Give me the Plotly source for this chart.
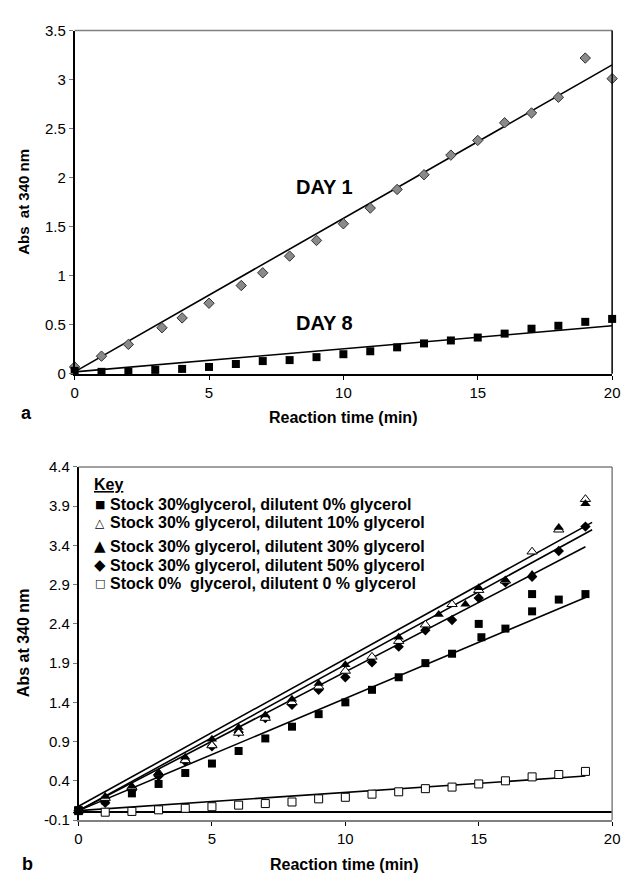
import plotly.graph_objects as go

# ---------------- Panel a data ----------------
day1_x = [0, 1, 2, 3.25, 4, 5, 6.2, 7, 8, 9, 10, 11, 12, 13, 14, 15, 16, 17, 18, 19, 20]
day1_y = [0.07, 0.18, 0.30, 0.47, 0.57, 0.72, 0.90, 1.03, 1.20, 1.36, 1.53, 1.69, 1.88,
          2.03, 2.23, 2.38, 2.56, 2.66, 2.82, 3.22, 3.01]
day8_x = list(range(0, 21))
day8_y = [0.03, 0.02, 0.02, 0.04, 0.05, 0.07, 0.10, 0.13, 0.14, 0.17, 0.20, 0.23, 0.27,
          0.31, 0.34, 0.37, 0.41, 0.46, 0.49, 0.53, 0.56]
# linear trend lines: (intercept, slope, x_end)
day1_fit = (0.02, 0.1565, 20)
day8_fit = (0.02, 0.0235, 20)

# ---------------- Panel b data ----------------
sq_x = [0, 1, 2, 3, 4, 5, 6, 7, 8, 9, 10, 11, 12, 13, 14, 15, 15.1, 16, 17, 17, 18, 19]
sq_y = [0.02, 0.15, 0.24, 0.36, 0.50, 0.62, 0.78, 0.94, 1.09, 1.25, 1.40, 1.56, 1.72,
        1.90, 2.02, 2.40, 2.23, 2.34, 2.78, 2.56, 2.71, 2.78]
otri_x = list(range(0, 20))
otri_y = [0.02, 0.18, 0.32, 0.50, 0.66, 0.85, 1.01, 1.20, 1.40, 1.60, 1.80, 1.98, 2.18,
          2.39, 2.65, 2.83, 2.95, 3.32, 3.60, 3.99]
ftri_x = [0, 1, 2, 3, 4, 5, 6, 7, 8, 9, 10, 12, 13.5, 14.5, 15, 16, 17, 18, 19]
ftri_y = [0.02, 0.20, 0.33, 0.50, 0.70, 0.93, 1.08, 1.24, 1.44, 1.64, 1.88, 2.23, 2.52,
          2.65, 2.86, 2.96, 3.03, 3.63, 3.93]
dia_x = list(range(0, 20))
dia_y = [0.02, 0.12, 0.28, 0.46, 0.65, 0.84, 1.02, 1.20, 1.37, 1.56, 1.72, 1.91, 2.11,
         2.32, 2.45, 2.73, 2.93, 3.00, 3.33, 3.64]
osq_x = list(range(0, 20))
osq_y = [0.02, 0.00, 0.01, 0.03, 0.05, 0.07, 0.09, 0.11, 0.13, 0.17, 0.19, 0.23, 0.26,
         0.30, 0.32, 0.36, 0.40, 0.45, 0.48, 0.52]
fit_otri = (0.075, 0.188, 19.25)
fit_ftri = (0.02, 0.186, 19.25)
fit_dia = (0.02, 0.177, 19.0)
fit_sq = (0.02, 0.143, 19.0)
fit_osq = (0.02, 0.0232, 19.0)

legend_symbols = ["■", "△", "▲", "◆", "□"]
legend_labels = [
    "Stock 30%glycerol, dilutent 0% glycerol",
    "Stock 30% glycerol, dilutent 10% glycerol",
    "Stock 30% glycerol, dilutent 30% glycerol",
    "Stock 30% glycerol, dilutent 50% glycerol",
    "Stock 0%  glycerol, dilutent 0 % glycerol",
]

a_yticks = [0, 0.5, 1, 1.5, 2, 2.5, 3, 3.5]
a_yticktext = ["0", "0.5", "1", "1.5", "2", "2.5", "3", "3.5"]
b_yticks = [-0.1, 0.4, 0.9, 1.4, 1.9, 2.4, 2.9, 3.4, 3.9, 4.4]
b_yticktext = ["-0.1", "0.4", "0.9", "1.4", "1.9", "2.4", "2.9", "3.4", "3.9", "4.4"]
xticks = [0, 5, 10, 15, 20]

FONT = "Liberation Sans, Arial, Helvetica, sans-serif"
W, H = 627, 881


def px_x(p):
    return p / W


def px_y(p):
    return 1 - p / H


def fit_line(fit):
    b0, m, xe = fit
    return [0, xe], [b0, b0 + m * xe]


fig = go.Figure()

# ---- panel a traces ----
for fit in [day1_fit, day8_fit]:
    fx, fy = fit_line(fit)
    fig.add_trace(go.Scatter(x=fx, y=fy, mode="lines", line=dict(color="black", width=1.6),
                             xaxis="x", yaxis="y", showlegend=False, hoverinfo="skip"))
fig.add_trace(go.Scatter(x=day1_x, y=day1_y, mode="markers", xaxis="x", yaxis="y",
                         cliponaxis=False,
                         marker=dict(symbol="diamond", size=8, color="#8a8a8a",
                                     line=dict(color="#333333", width=1)),
                         showlegend=False))
fig.add_trace(go.Scatter(x=day8_x, y=day8_y, mode="markers", xaxis="x", yaxis="y",
                         cliponaxis=False,
                         marker=dict(symbol="square", size=8, color="black",
                                     line=dict(color="black", width=0)),
                         showlegend=False))

# ---- panel b traces ----
for fit in [fit_otri, fit_ftri, fit_dia, fit_sq, fit_osq]:
    fx, fy = fit_line(fit)
    fig.add_trace(go.Scatter(x=fx, y=fy, mode="lines", line=dict(color="black", width=1.6),
                             xaxis="x2", yaxis="y2", showlegend=False, hoverinfo="skip"))

marker_specs = [
    (osq_x, osq_y, "square", 8, "white", 1),
    (sq_x, sq_y, "square", 8, "black", 0),
    (dia_x, dia_y, "diamond", 8, "black", 0),
    (otri_x, otri_y, "triangle-up", 9, "white", 1),
    (ftri_x, ftri_y, "triangle-up", 9, "black", 0),
]
for xs, ys, sym, sz, col, lw in marker_specs:
    fig.add_trace(go.Scatter(x=xs, y=ys, mode="markers", xaxis="x2", yaxis="y2",
                             cliponaxis=False,
                             marker=dict(symbol=sym, size=sz, color=col,
                                         line=dict(color="black", width=lw)),
                             showlegend=False))

tickfont = dict(family=FONT, size=15, color="black")

fig.update_layout(
    width=W, height=H,
    margin=dict(l=0, r=0, t=0, b=0),
    paper_bgcolor="white", plot_bgcolor="white",
    showlegend=False,
    xaxis=dict(domain=[px_x(72), px_x(620)], range=[0, 20], anchor="y",
               tickvals=xticks, ticks="outside", ticklen=4, tickcolor="black",
               showline=True, linecolor="black", linewidth=1.6, ticklabeloverflow="allow",
               showgrid=False, zeroline=False, tickfont=tickfont),
    yaxis=dict(domain=[px_y(372), px_y(22)], range=[0, 3.5], anchor="x",
               tickvals=a_yticks, ticktext=a_yticktext, ticks="outside", ticklen=4,
               tickcolor="#777777", showline=True, linecolor="black", linewidth=1.6,
               ticklabeloverflow="allow",
               showgrid=False, zeroline=False, tickfont=tickfont),
    xaxis2=dict(domain=[px_x(76), px_x(620)], range=[0, 20], anchor="y2",
                tickvals=xticks, ticks="outside", ticklen=4, tickcolor="black",
                showline=True, linecolor="#808080", linewidth=1.5, ticklabeloverflow="allow",
                showgrid=False, zeroline=False, tickfont=tickfont),
    yaxis2=dict(domain=[px_y(827), px_y(467)], range=[-0.1, 4.4], anchor="x2",
                tickvals=b_yticks, ticktext=b_yticktext, ticks="outside", ticklen=4,
                tickcolor="#777777", showline=True, linecolor="black", linewidth=1.6,
                ticklabeloverflow="allow",
                showgrid=False, zeroline=True, zerolinecolor="black", zerolinewidth=1.6,
                tickfont=tickfont),
)

# frame lines
fig.add_shape(type="line", xref="x domain", yref="y domain", x0=0, x1=1, y0=1, y1=1,
              line=dict(color="#808080", width=1.5))
fig.add_shape(type="line", xref="x domain", yref="y domain", x0=1, x1=1, y0=0, y1=1,
              line=dict(color="black", width=1.5))
fig.add_shape(type="line", xref="x2 domain", yref="y2 domain", x0=0, x1=1, y0=1, y1=1,
              line=dict(color="#808080", width=1.5))
fig.add_shape(type="line", xref="x2 domain", yref="y2 domain", x0=1, x1=1, y0=0, y1=1,
              line=dict(color="#808080", width=1.5))


def label(text, x, y, size, xref="paper", yref="paper", xanchor="center", angle=0,
          family=FONT):
    return dict(text=text, x=x, y=y, xref=xref, yref=yref, xanchor=xanchor,
                yanchor="middle", textangle=angle, showarrow=False, borderpad=0,
                font=dict(family=family, size=size, color="black"))


ann = []
# axis titles
ann.append(label("<b>Abs  at 340 nm</b>", px_x(20), px_y(197), 15, angle=-90))
ann.append(label("<b>Reaction time (min)</b>", px_x(346), px_y(417), 16))
ann.append(label("<b>Abs at 340 nm</b>", px_x(20), px_y(647), 16, angle=-90))
ann.append(label("<b>Reaction time (min)</b>", px_x(347), px_y(872), 16))
# panel letters
ann.append(label("<b>a</b>", px_x(23), px_y(412), 18))
ann.append(label("<b>b</b>", px_x(24), px_y(872), 18))
# DAY labels
ann.append(label("<b>DAY 1</b>", 9.3, 1.9, 20, xref="x", yref="y"))
ann.append(label("<b>DAY 8</b>", 9.3, 0.52, 20, xref="x", yref="y"))
# key
ann.append(label("<b><u>Key</u></b>", px_x(91), px_y(485), 16, xanchor="left"))
row_y = [505, 524, 548, 567, 586]
sym_sizes = [11, 12, 15, 15, 11]
for sym, lab, ry, ss in zip(legend_symbols, legend_labels, row_y, sym_sizes):
    ann.append(label(sym, px_x(98), px_y(ry), ss, family="DejaVu Sans"))
    ann.append(label("<b>" + lab + "</b>", px_x(107), px_y(ry), 16, xanchor="left"))

fig.update_layout(annotations=ann)
fig.write_html("out.html", config={"displayModeBar": False},
               post_script="document.body.style.margin='0px';document.body.style.overflow='hidden';")
